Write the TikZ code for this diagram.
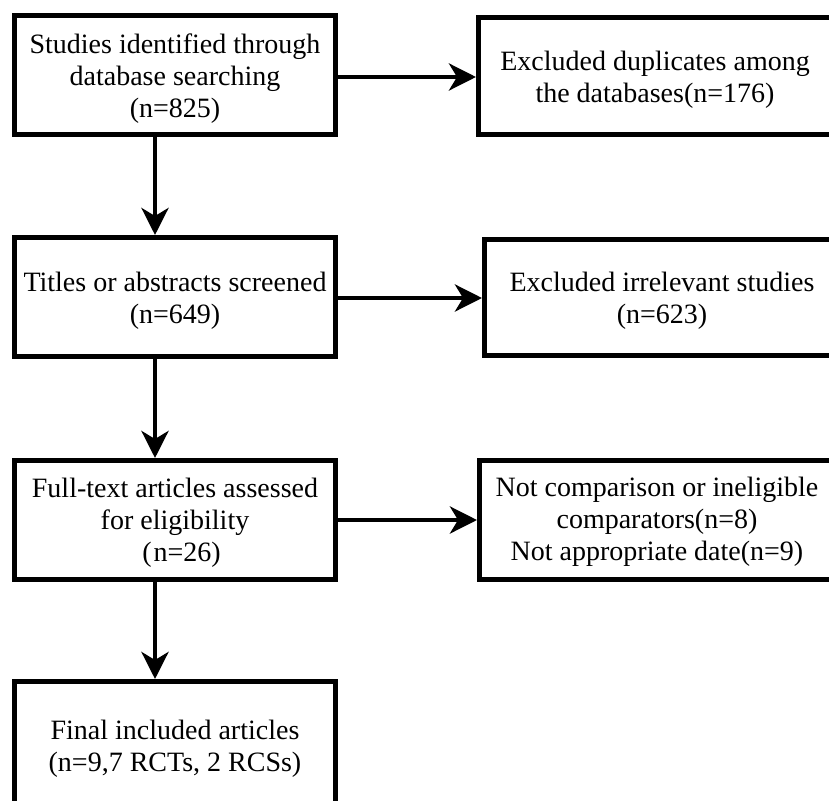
\documentclass[tikz,border=0pt]{standalone}
\usepackage{fontspec}
\setmainfont{Liberation Serif}
\usetikzlibrary{arrows.meta}
\tikzset{
  box/.style={draw=black, line width=5pt, fill=white, rectangle, inner sep=0pt},
  txt/.style={inner sep=0pt, align=center, font=\fontsize{28}{32}\selectfont},
  arr/.style={draw=black, line width=4.5pt, -{Stealth[length=27pt, width=27pt, inset=8pt]}}
}
\begin{document}
\begin{tikzpicture}[x=1pt, y=-1pt]
\useasboundingbox (0,0) rectangle (829,800);
\fill[white] (0,0) rectangle (829,800);
\clip (0,0) rectangle (829,800);
% left column
\node[box, minimum width=321pt, minimum height=119pt] (b1) at (175,75) {};
\node[txt, yshift=-4pt] (t1) at (b1.center) {Studies identified through\\database searching\\(n=825)};
\node[box, minimum width=321pt, minimum height=119pt] (b2) at (175,297) {};
\node[txt, yshift=-4pt] (t2) at (b2.center) {Titles or abstracts screened\\(n=649)};
\node[box, minimum width=321pt, minimum height=119pt] (b3) at (175,520) {};
\node[txt, yshift=-3pt] (t3) at (b3.center) {Full-text articles assessed\\for eligibility\\\hspace*{13pt}(\kern2pt n=26)};
\node[box, minimum width=321pt, minimum height=135pt] (b4) at (175,749) {};
\node[txt, yshift=0pt] (t4) at (b4.center) {Final included articles\\(n=9,7 RCTs, 2 RCSs)};
% right column
\node[box, minimum width=353pt, minimum height=117pt] (r1) at (655,76) {};
\node[txt, yshift=-4pt] (u1) at (r1.center) {Excluded duplicates among\\the databases(n=176)};
\node[box, minimum width=355pt, minimum height=116pt] (r2) at (662,297.5) {};
\node[txt, yshift=-3pt] (u2) at (r2.center) {Excluded irrelevant studies\\(n=623)};
\node[box, minimum width=355pt, minimum height=119pt] (r3) at (657,520) {};
\node[txt, yshift=-2pt] (u3) at (r3.center) {Not comparison or ineligible\\comparators(n=8)\\Not appropriate date(n=9)};
% vertical arrows
\draw[arr] ([xshift=-20pt]b1.south) -- ([xshift=-20pt]b2.north);
\draw[arr] ([xshift=-20pt]b2.south) -- ([xshift=-20pt]b3.north);
\draw[arr] ([xshift=-20pt]b3.south) -- ([xshift=-20pt]b4.north);
% horizontal arrows
\draw[arr] ([yshift=-2pt]b1.east) -- ([yshift=-2pt]b1.east -| r1.west);
\draw[arr] ([yshift=-1pt]b2.east) -- ([yshift=-1pt]b2.east -| r2.west);
\draw[arr] (b3.east) -- (b3.east -| r3.west);
\end{tikzpicture}
\end{document}
